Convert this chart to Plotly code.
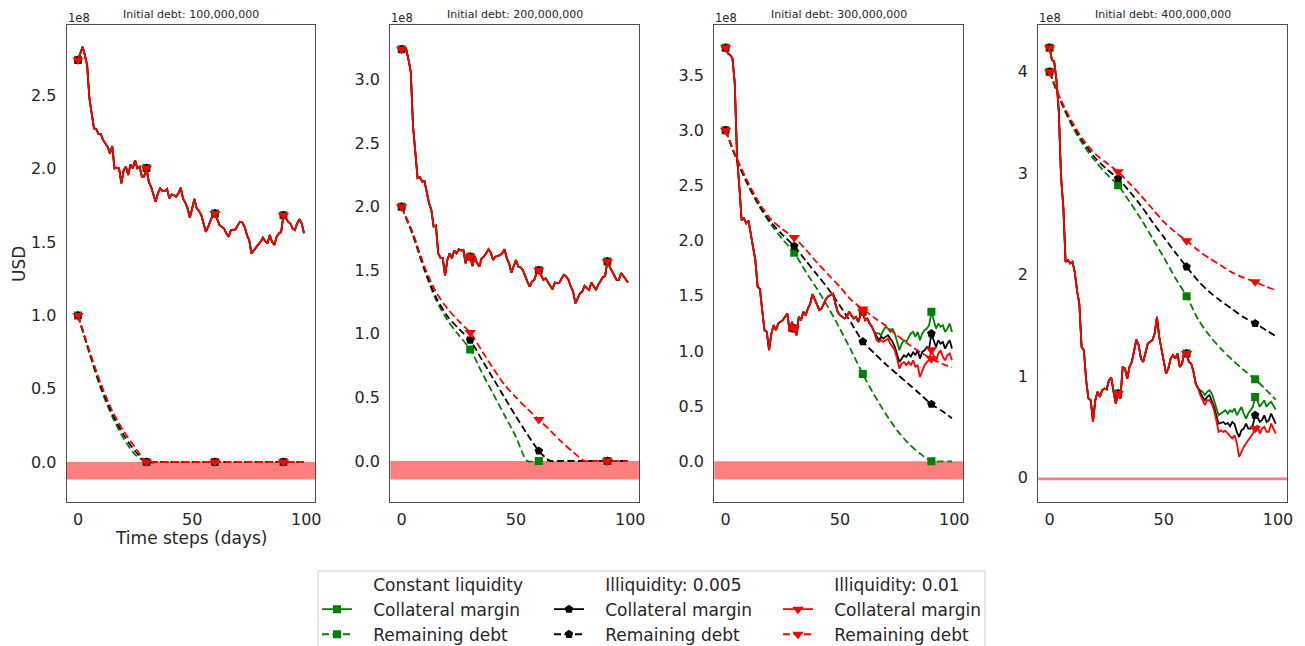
import plotly.graph_objects as go

# The page body has an 8px margin, so the figure is sized to fit the window exactly.
OFF = 8
W, H = 1305 - OFF, 646 - OFF

# ---------------- data (values in units of 1e8 USD) ----------------
days = list(range(100))
debt_days = [0, 5, 10, 15, 20, 25, 30, 35, 40, 45, 50, 55, 60, 65, 70, 75, 80, 85, 90, 95, 99]

panel_titles = ["Initial debt: 100,000,000", "Initial debt: 200,000,000",
                "Initial debt: 300,000,000", "Initial debt: 400,000,000"]
scenario_names = ["Constant liquidity", "Illiquidity: 0.005", "Illiquidity: 0.01"]
series_names = ["Collateral margin", "Remaining debt"]

# Panel 1 collateral margin (all three scenarios practically identical)
p1_margin = [2.742, 2.788, 2.833, 2.776, 2.708, 2.480, 2.389, 2.276, 2.271, 2.237,
             2.237, 2.196, 2.173, 2.150, 2.105, 2.155, 2.003, 2.007, 2.003, 1.900,
             1.992, 2.014, 1.957, 2.030, 2.003, 2.059, 2.003, 2.014, 1.946, 1.946,
             2.005, 1.912, 1.877, 1.832, 1.775, 1.832, 1.866, 1.848, 1.848, 1.862,
             1.798, 1.825, 1.821, 1.809, 1.832, 1.871, 1.798, 1.770, 1.730, 1.666,
             1.730, 1.794, 1.730, 1.712, 1.684, 1.627, 1.570, 1.604, 1.639, 1.684,
             1.695, 1.661, 1.616, 1.604, 1.593, 1.559, 1.536, 1.582, 1.582, 1.586,
             1.616, 1.639, 1.634, 1.604, 1.548, 1.513, 1.422, 1.445, 1.468, 1.484,
             1.502, 1.530, 1.507, 1.491, 1.548, 1.502, 1.480, 1.536, 1.559, 1.570,
             1.684, 1.666, 1.639, 1.627, 1.593, 1.582, 1.627, 1.657, 1.627, 1.560]

# Panel 2 collateral margin
p2_margin = [3.240, 3.240, 3.240, 3.158, 3.065, 2.632, 2.448, 2.225, 2.233, 2.198,
             2.203, 2.119, 2.028, 1.976, 1.845, 1.853, 1.634, 1.600, 1.595, 1.456,
             1.582, 1.634, 1.595, 1.656, 1.634, 1.666, 1.656, 1.661, 1.556, 1.634,
             1.608, 1.535, 1.608, 1.556, 1.530, 1.595, 1.608, 1.634, 1.666, 1.640,
             1.582, 1.608, 1.613, 1.620, 1.634, 1.666, 1.595, 1.556, 1.482, 1.530,
             1.582, 1.530, 1.525, 1.504, 1.451, 1.412, 1.371, 1.412, 1.425, 1.478,
             1.500, 1.465, 1.425, 1.438, 1.404, 1.378, 1.352, 1.404, 1.399, 1.404,
             1.438, 1.465, 1.451, 1.425, 1.371, 1.333, 1.240, 1.280, 1.319, 1.333,
             1.378, 1.360, 1.346, 1.404, 1.371, 1.346, 1.386, 1.420, 1.446, 1.456,
             1.570, 1.530, 1.491, 1.465, 1.425, 1.425, 1.478, 1.456, 1.425, 1.404]

# Panel 3 collateral margin: common part (days 0-65) and per-scenario tails (days 66-99)
p3_margin_common = [3.747, 3.696, 3.681, 3.651, 3.424, 2.759, 2.487, 2.185, 2.200, 2.155,
                    2.180, 2.064, 1.913, 1.822, 1.580, 1.560, 1.369, 1.188, 1.173, 1.006,
                    1.157, 1.233, 1.188, 1.248, 1.263, 1.278, 1.309, 1.339, 1.173, 1.263,
                    1.203, 1.143, 1.309, 1.278, 1.354, 1.324, 1.384, 1.429, 1.514, 1.460,
                    1.405, 1.369, 1.384, 1.429, 1.475, 1.496, 1.505, 1.520, 1.429, 1.354,
                    1.324, 1.309, 1.294, 1.309, 1.354, 1.324, 1.294, 1.309, 1.263, 1.324,
                    1.354, 1.278, 1.294, 1.248, 1.218, 1.173]
p3_tail_green = [1.158, 1.158, 1.142, 1.188, 1.218, 1.203, 1.173, 1.203, 1.158, 1.082,
                 1.006, 1.066, 1.097, 1.082, 1.127, 1.158, 1.172, 1.127, 1.172, 1.097,
                 1.158, 1.188, 1.203, 1.233, 1.354, 1.278, 1.203, 1.248, 1.218, 1.233,
                 1.172, 1.203, 1.248, 1.172]
p3_tail_black = [1.127, 1.097, 1.127, 1.112, 1.127, 1.142, 1.112, 1.082, 1.036, 0.976,
                 0.900, 0.930, 0.961, 0.946, 0.976, 0.946, 0.991, 0.961, 1.006, 0.930,
                 0.991, 1.006, 1.036, 1.021, 1.157, 1.097, 1.036, 1.097, 1.066, 1.082,
                 1.021, 1.066, 1.097, 1.021]
p3_tail_red = [1.097, 1.082, 1.097, 1.082, 1.097, 1.112, 1.066, 1.036, 1.006, 0.930,
               0.840, 0.885, 0.900, 0.870, 0.900, 0.870, 0.915, 0.855, 0.870, 0.764,
               0.825, 0.870, 0.900, 0.915, 1.010, 0.961, 0.900, 0.976, 1.006, 0.946,
               0.915, 0.961, 0.976, 0.915]

# Panel 4 collateral margin
p4_margin_common = [4.237, 4.118, 4.101, 3.918, 3.622, 2.965, 2.669, 2.126, 2.143, 2.110,
                    2.126, 2.027, 1.846, 1.715, 1.288, 1.255, 0.959, 0.779, 0.762, 0.548,
                    0.762, 0.845, 0.795, 0.861, 0.878, 0.868, 0.959, 0.986, 0.845, 0.729,
                    0.828, 0.779, 1.091, 1.075, 0.976, 1.091, 1.140, 1.272, 1.361, 1.305,
                    1.173, 1.140, 1.239, 1.321, 1.338, 1.354, 1.420, 1.584, 1.387, 1.255,
                    1.157, 1.025, 1.075, 1.173, 1.206, 1.173, 1.222, 1.091, 1.124, 1.239,
                    1.222, 1.140, 1.124, 1.042, 0.926, 0.878]
p4_tail_green = [0.861, 0.845, 0.812, 0.845, 0.861, 0.828, 0.762, 0.680, 0.614, 0.631,
                 0.647, 0.664, 0.631, 0.664, 0.647, 0.680, 0.614, 0.664, 0.697, 0.631,
                 0.581, 0.631, 0.664, 0.697, 0.795, 0.762, 0.697, 0.730, 0.762, 0.697,
                 0.729, 0.746, 0.713, 0.671]
p4_tail_black = [0.828, 0.795, 0.762, 0.795, 0.812, 0.762, 0.697, 0.614, 0.532, 0.538,
                 0.548, 0.526, 0.538, 0.505, 0.548, 0.526, 0.450, 0.401, 0.466, 0.483,
                 0.532, 0.483, 0.483, 0.516, 0.614, 0.598, 0.548, 0.565, 0.614, 0.548,
                 0.565, 0.631, 0.581, 0.532]
p4_tail_red = [0.812, 0.762, 0.713, 0.762, 0.762, 0.730, 0.664, 0.565, 0.450, 0.466,
               0.450, 0.460, 0.434, 0.401, 0.384, 0.417, 0.335, 0.203, 0.253, 0.302,
               0.335, 0.368, 0.401, 0.434, 0.483, 0.516, 0.434, 0.483, 0.500, 0.450,
               0.450, 0.532, 0.483, 0.434]

# Remaining debt, sampled on debt_days
p1_debt_green = [1.00, 0.74, 0.50, 0.31, 0.16, 0.05, 0, 0, 0, 0, 0, 0, 0, 0, 0, 0, 0, 0, 0, 0, 0]
p1_debt_black = [1.00, 0.75, 0.515, 0.33, 0.185, 0.075, 0, 0, 0, 0, 0, 0, 0, 0, 0, 0, 0, 0, 0, 0, 0]
p1_debt_red = [1.00, 0.76, 0.535, 0.35, 0.21, 0.10, 0, 0, 0, 0, 0, 0, 0, 0, 0, 0, 0, 0, 0, 0, 0]

p2_debt_green = [2.00, 1.77, 1.50, 1.27, 1.11, 0.99, 0.878, 0.70, 0.53, 0.36, 0.19, 0.0,
                 0, 0, 0, 0, 0, 0, 0, 0, 0]
p2_debt_black = [2.00, 1.78, 1.51, 1.29, 1.14, 1.04, 0.951, 0.80, 0.65, 0.50, 0.35, 0.21,
                 0.079, 0, 0, 0, 0, 0, 0, 0, 0]
p2_debt_red = [2.00, 1.79, 1.53, 1.33, 1.20, 1.10, 1.01, 0.87, 0.73, 0.60, 0.50, 0.41,
               0.326, 0.24, 0.15, 0.07, 0.0, 0, 0, 0, 0]

p3_debt_green = [3.00, 2.72, 2.49, 2.30, 2.14, 2.01, 1.889, 1.72, 1.56, 1.39, 1.20, 1.00,
                 0.79, 0.60, 0.43, 0.28, 0.16, 0.07, 0.0, 0.0, 0.0]
p3_debt_black = [3.00, 2.73, 2.50, 2.31, 2.16, 2.05, 1.949, 1.82, 1.69, 1.56, 1.41, 1.25,
                 1.085, 0.98, 0.88, 0.79, 0.70, 0.61, 0.517, 0.45, 0.39]
p3_debt_red = [3.00, 2.74, 2.52, 2.33, 2.19, 2.10, 2.028, 1.92, 1.80, 1.69, 1.58, 1.46,
               1.38, 1.30, 1.23, 1.14, 1.06, 0.99, 0.93, 0.88, 0.85]

p4_debt_green = [4.00, 3.70, 3.46, 3.27, 3.12, 2.99, 2.882, 2.72, 2.55, 2.36, 2.17, 1.97,
                 1.788, 1.56, 1.40, 1.27, 1.16, 1.06, 0.969, 0.86, 0.769]
p4_debt_black = [4.00, 3.71, 3.48, 3.30, 3.15, 3.04, 2.948, 2.82, 2.68, 2.52, 2.37, 2.22,
                 2.077, 1.94, 1.83, 1.74, 1.66, 1.58, 1.519, 1.45, 1.394]
p4_debt_red = [4.00, 3.72, 3.50, 3.32, 3.19, 3.10, 3.014, 2.90, 2.78, 2.65, 2.52, 2.42,
               2.334, 2.24, 2.16, 2.09, 2.02, 1.97, 1.929, 1.88, 1.847]

# lower edge of the red (negative) band in each panel
band_low = [-0.12, -0.146, -0.165, -0.027]

margins = [
    [p1_margin, p1_margin, p1_margin],
    [p2_margin, p2_margin, p2_margin],
    [p3_margin_common + p3_tail_green, p3_margin_common + p3_tail_black, p3_margin_common + p3_tail_red],
    [p4_margin_common + p4_tail_green, p4_margin_common + p4_tail_black, p4_margin_common + p4_tail_red],
]
debts = [
    [p1_debt_green, p1_debt_black, p1_debt_red],
    [p2_debt_green, p2_debt_black, p2_debt_red],
    [p3_debt_green, p3_debt_black, p3_debt_red],
    [p4_debt_green, p4_debt_black, p4_debt_red],
]

# ---------------- styling ----------------
colors = ["green", "black", "red"]
symbols = ["square", "pentagon", "triangle-down"]
msizes = [8, 9, 10]
TXT = "#262626"
FONT = "DejaVu Sans"
DASH = "7px,3.5px"
LW = 1.8
PAD = "\u00a0\u00a0\u00a0"  # gap between legend key and label


def xp(px):
    return (px - OFF) / W


def yp(py):
    return 1 - (py - OFF) / H


x_px = [(66.7, 315.3), (390.3, 639.3), (714.3, 963.3), (1038.3, 1287.0)]
y_top, y_bot = 25.0, 502.0
y_ranges = [(-0.273, 2.981), (-0.323, 3.431), (-0.369, 3.953), (-0.241, 4.461)]
y_dticks = [0.5, 0.5, 0.5, 1]
y_fmt = [".1f", ".1f", ".1f", "d"]

fig = go.Figure()

for p in range(4):
    xa = "x" if p == 0 else f"x{p+1}"
    ya = "y" if p == 0 else f"y{p+1}"
    for s in range(3):
        m = margins[p][s]
        d = debts[p][s]
        mkr = dict(color=colors[s], symbol=symbols[s], size=msizes[s], line=dict(width=0))
        fig.add_trace(go.Scatter(x=days, y=m, mode="lines", xaxis=xa, yaxis=ya,
                                 line=dict(color=colors[s], width=LW), showlegend=False,
                                 hoverinfo="skip"))
        fig.add_trace(go.Scatter(x=days[::30], y=m[::30], mode="markers", xaxis=xa, yaxis=ya,
                                 marker=mkr, showlegend=False, hoverinfo="skip"))
        fig.add_trace(go.Scatter(x=debt_days, y=d, mode="lines", xaxis=xa, yaxis=ya,
                                 line=dict(color=colors[s], width=LW, dash=DASH, shape="spline",
                                           smoothing=0.8),
                                 showlegend=False, hoverinfo="skip"))
        mk = [i for i, dd in enumerate(debt_days) if dd % 30 == 0]
        fig.add_trace(go.Scatter(x=[debt_days[i] for i in mk], y=[d[i] for i in mk], mode="markers",
                                 xaxis=xa, yaxis=ya, marker=mkr,
                                 showlegend=False, hoverinfo="skip"))

# legend entries (three column legends)
legend_ids = ["legend", "legend2", "legend3"]
for s in range(3):
    mkr = dict(color=colors[s], symbol=symbols[s], size=msizes[s], line=dict(width=0))
    fig.add_trace(go.Scatter(x=[None], y=[None], mode="lines", name=PAD + scenario_names[s],
                             line=dict(color="rgba(0,0,0,0)", width=LW), legend=legend_ids[s]))
    fig.add_trace(go.Scatter(x=[None], y=[None], mode="lines+markers", name=PAD + series_names[0],
                             line=dict(color=colors[s], width=LW), marker=mkr,
                             legend=legend_ids[s]))
    fig.add_trace(go.Scatter(x=[None], y=[None], mode="lines+markers", name=PAD + series_names[1],
                             line=dict(color=colors[s], width=LW, dash=DASH), marker=mkr,
                             legend=legend_ids[s]))

layout = dict(
    width=W, height=H,
    margin=dict(l=0, r=0, t=0, b=0, autoexpand=False),
    paper_bgcolor="white", plot_bgcolor="white",
    font=dict(family=FONT, color=TXT, size=16),
    shapes=[], annotations=[],
)

for p in range(4):
    xk = "xaxis" if p == 0 else f"xaxis{p+1}"
    yk = "yaxis" if p == 0 else f"yaxis{p+1}"
    ya_name = "y" if p == 0 else f"y{p+1}"
    xa_name = "x" if p == 0 else f"x{p+1}"
    layout[xk] = dict(domain=[xp(x_px[p][0]), xp(x_px[p][1])], anchor=ya_name,
                      range=[-4.95, 103.95], tickvals=[0, 50, 100],
                      showgrid=False, zeroline=False, showline=True, mirror=True,
                      linecolor="#4d4d4d", linewidth=1.2, ticks="", ticklabelstandoff=3,
                      tickfont=dict(size=16, color=TXT, family=FONT))
    layout[yk] = dict(domain=[yp(y_bot), yp(y_top)], anchor=xa_name,
                      range=list(y_ranges[p]), dtick=y_dticks[p], tick0=0, tickformat=y_fmt[p],
                      showgrid=False, zeroline=False, showline=True, mirror=True,
                      linecolor="#4d4d4d", linewidth=1.2, ticks="", ticklabelstandoff=6,
                      tickfont=dict(size=16, color=TXT, family=FONT))
    layout["shapes"].append(dict(type="rect", xref=f"{xa_name} domain", yref=ya_name,
                                 x0=0, x1=1, y0=band_low[p], y1=0,
                                 fillcolor="rgba(255,0,0,0.5)", line=dict(width=0), layer="below"))
    cx = xp((x_px[p][0] + x_px[p][1]) / 2)
    layout["annotations"].append(dict(text=panel_titles[p], x=cx, y=yp(14), xref="paper", yref="paper",
                                      showarrow=False, xanchor="center", yanchor="middle",
                                      font=dict(size=11, color=TXT, family=FONT)))
    layout["annotations"].append(dict(text="1e8", x=xp(x_px[p][0] - 1), y=yp(18.5), xref="paper",
                                      yref="paper", showarrow=False, xanchor="left", yanchor="middle",
                                      font=dict(size=11.5, color=TXT, family=FONT)))

layout["annotations"].append(dict(text="USD", x=xp(19), y=yp(264), xref="paper", yref="paper",
                                  showarrow=False, textangle=-90, xanchor="center", yanchor="middle",
                                  font=dict(size=17, color=TXT, family=FONT)))
layout["annotations"].append(dict(text="Time steps (days)", x=xp((x_px[0][0] + x_px[0][1]) / 2),
                                  y=yp(538), xref="paper", yref="paper", showarrow=False,
                                  xanchor="center", yanchor="middle",
                                  font=dict(size=17, color=TXT, family=FONT)))

# legend frame
layout["shapes"].append(dict(type="rect", xref="paper", yref="paper",
                             x0=xp(318), x1=xp(985), y0=yp(571), y1=yp(680),
                             line=dict(color="#cccccc", width=1), fillcolor="white", layer="below"))

leg_x = [317, 549, 778]
for i, lid in enumerate(legend_ids):
    layout[lid] = dict(x=xp(leg_x[i]), y=yp(566.5), xanchor="left", yanchor="top",
                       bgcolor="rgba(0,0,0,0)", borderwidth=0, traceorder="normal",
                       font=dict(size=17, color=TXT, family=FONT), itemclick=False)

fig.update_layout(**layout)
fig.write_html("out.html")
